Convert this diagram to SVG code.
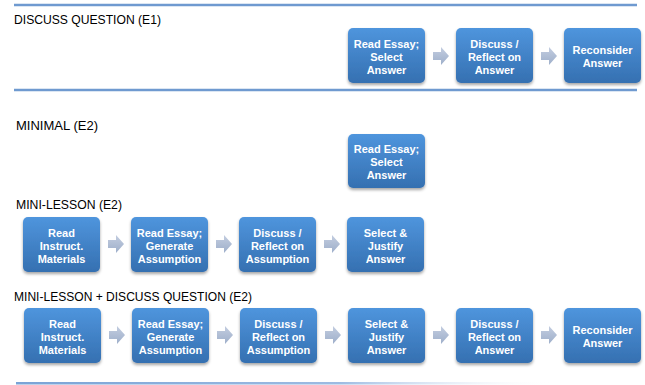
<svg xmlns="http://www.w3.org/2000/svg" width="645" height="385" viewBox="0 0 645 385">
<defs>
<linearGradient id="boxg" x1="0" y1="0" x2="0" y2="1">
<stop offset="0" stop-color="#4f95dd"/>
<stop offset="1" stop-color="#3570b1"/>
</linearGradient>
<linearGradient id="arrg" x1="0" y1="0" x2="0" y2="1">
<stop offset="0" stop-color="#c3cde0"/>
<stop offset="1" stop-color="#9eafca"/>
</linearGradient>
<linearGradient id="fadeg" x1="0" y1="0" x2="1" y2="0">
<stop offset="0" stop-color="#7aa3d6"/>
<stop offset="0.6" stop-color="#9dbbe2"/>
<stop offset="1" stop-color="#ffffff" stop-opacity="0"/>
</linearGradient>
<filter id="sh" x="-20%" y="-20%" width="140%" height="150%">
<feDropShadow dx="0" dy="2" stdDeviation="1.5" flood-color="#000" flood-opacity="0.35"/>
</filter>
<path id="arr" d="M0,5 H8 V0 L16,9 L8,18 V13 H0 Z"/>
</defs>
<style>
.title{font-family:"Liberation Sans",Arial,sans-serif;font-size:13px;fill:#000;}
.box{fill:url(#boxg);filter:url(#sh);}
.lbl{font-family:"Liberation Sans",Arial,sans-serif;font-size:11px;font-weight:bold;fill:#fff;text-anchor:middle;}
.arrow{fill:url(#arrg);}
.rule{stroke:#6f9ad0;stroke-width:2.5;}
</style>
<rect width="645" height="385" fill="#ffffff"/>
<line class="rule" x1="14" y1="5" x2="637" y2="5"/>
<line class="rule" x1="14" y1="90" x2="637" y2="90"/>
<rect x="16" y="382" width="540" height="2.5" fill="url(#fadeg)"/>

<text class="title" x="14" y="24" textLength="147" lengthAdjust="spacingAndGlyphs">DISCUSS QUESTION (E1)</text>
<text class="title" x="16" y="130" textLength="82" lengthAdjust="spacingAndGlyphs">MINIMAL (E2)</text>
<text class="title" x="16" y="209" textLength="106" lengthAdjust="spacingAndGlyphs">MINI-LESSON (E2)</text>
<text class="title" x="14" y="301" textLength="238" lengthAdjust="spacingAndGlyphs">MINI-LESSON + DISCUSS QUESTION (E2)</text>

<g id="connectors">
<use href="#arr" class="arrow" x="433" y="47"/>
<use href="#arr" class="arrow" x="541" y="47"/>
<use href="#arr" class="arrow" x="108" y="235"/>
<use href="#arr" class="arrow" x="216" y="235"/>
<use href="#arr" class="arrow" x="324" y="235"/>
<use href="#arr" class="arrow" x="109" y="326"/>
<use href="#arr" class="arrow" x="217" y="326"/>
<use href="#arr" class="arrow" x="325" y="326"/>
<use href="#arr" class="arrow" x="433" y="326"/>
<use href="#arr" class="arrow" x="541" y="326"/>
</g>

<g id="e1-read">
<rect class="box" x="348" y="28" width="77" height="55" rx="5"/>
<text class="lbl" x="386.5" y="48">Read Essay;</text>
<text class="lbl" x="386.5" y="61">Select</text>
<text class="lbl" x="386.5" y="74">Answer</text>
</g>
<g id="e1-discuss">
<rect class="box" x="456" y="28" width="77" height="55" rx="5"/>
<text class="lbl" x="494.5" y="48">Discuss /</text>
<text class="lbl" x="494.5" y="61">Reflect on</text>
<text class="lbl" x="494.5" y="74">Answer</text>
</g>
<g id="e1-reconsider">
<rect class="box" x="564" y="28" width="77" height="55" rx="5"/>
<text class="lbl" x="602.5" y="54">Reconsider</text>
<text class="lbl" x="602.5" y="67">Answer</text>
</g>

<g id="min-read">
<rect class="box" x="348" y="134" width="77" height="54" rx="5"/>
<text class="lbl" x="386.5" y="153">Read Essay;</text>
<text class="lbl" x="386.5" y="166">Select</text>
<text class="lbl" x="386.5" y="179">Answer</text>
</g>

<g id="ml-instruct">
<rect class="box" x="23" y="217" width="77" height="55" rx="5"/>
<text class="lbl" x="61.5" y="237">Read</text>
<text class="lbl" x="61.5" y="250">Instruct.</text>
<text class="lbl" x="61.5" y="263">Materials</text>
</g>
<g id="ml-essay">
<rect class="box" x="131" y="217" width="77" height="55" rx="5"/>
<text class="lbl" x="169.5" y="237">Read Essay;</text>
<text class="lbl" x="169.5" y="250">Generate</text>
<text class="lbl" x="169.5" y="263">Assumption</text>
</g>
<g id="ml-discuss">
<rect class="box" x="239" y="217" width="77" height="55" rx="5"/>
<text class="lbl" x="277.5" y="237">Discuss /</text>
<text class="lbl" x="277.5" y="250">Reflect on</text>
<text class="lbl" x="277.5" y="263">Assumption</text>
</g>
<g id="ml-select">
<rect class="box" x="347" y="217" width="77" height="55" rx="5"/>
<text class="lbl" x="385.5" y="237">Select &amp;</text>
<text class="lbl" x="385.5" y="250">Justify</text>
<text class="lbl" x="385.5" y="263">Answer</text>
</g>

<g id="mld-instruct">
<rect class="box" x="24" y="308" width="77" height="55" rx="5"/>
<text class="lbl" x="62.5" y="328">Read</text>
<text class="lbl" x="62.5" y="341">Instruct.</text>
<text class="lbl" x="62.5" y="354">Materials</text>
</g>
<g id="mld-essay">
<rect class="box" x="132" y="308" width="77" height="55" rx="5"/>
<text class="lbl" x="170.5" y="328">Read Essay;</text>
<text class="lbl" x="170.5" y="341">Generate</text>
<text class="lbl" x="170.5" y="354">Assumption</text>
</g>
<g id="mld-discuss-assump">
<rect class="box" x="240" y="308" width="77" height="55" rx="5"/>
<text class="lbl" x="278.5" y="328">Discuss /</text>
<text class="lbl" x="278.5" y="341">Reflect on</text>
<text class="lbl" x="278.5" y="354">Assumption</text>
</g>
<g id="mld-select">
<rect class="box" x="348" y="308" width="77" height="55" rx="5"/>
<text class="lbl" x="386.5" y="328">Select &amp;</text>
<text class="lbl" x="386.5" y="341">Justify</text>
<text class="lbl" x="386.5" y="354">Answer</text>
</g>
<g id="mld-discuss-answer">
<rect class="box" x="456" y="308" width="77" height="55" rx="5"/>
<text class="lbl" x="494.5" y="328">Discuss /</text>
<text class="lbl" x="494.5" y="341">Reflect on</text>
<text class="lbl" x="494.5" y="354">Answer</text>
</g>
<g id="mld-reconsider">
<rect class="box" x="564" y="308" width="77" height="55" rx="5"/>
<text class="lbl" x="602.5" y="334">Reconsider</text>
<text class="lbl" x="602.5" y="347">Answer</text>
</g>
</svg>
